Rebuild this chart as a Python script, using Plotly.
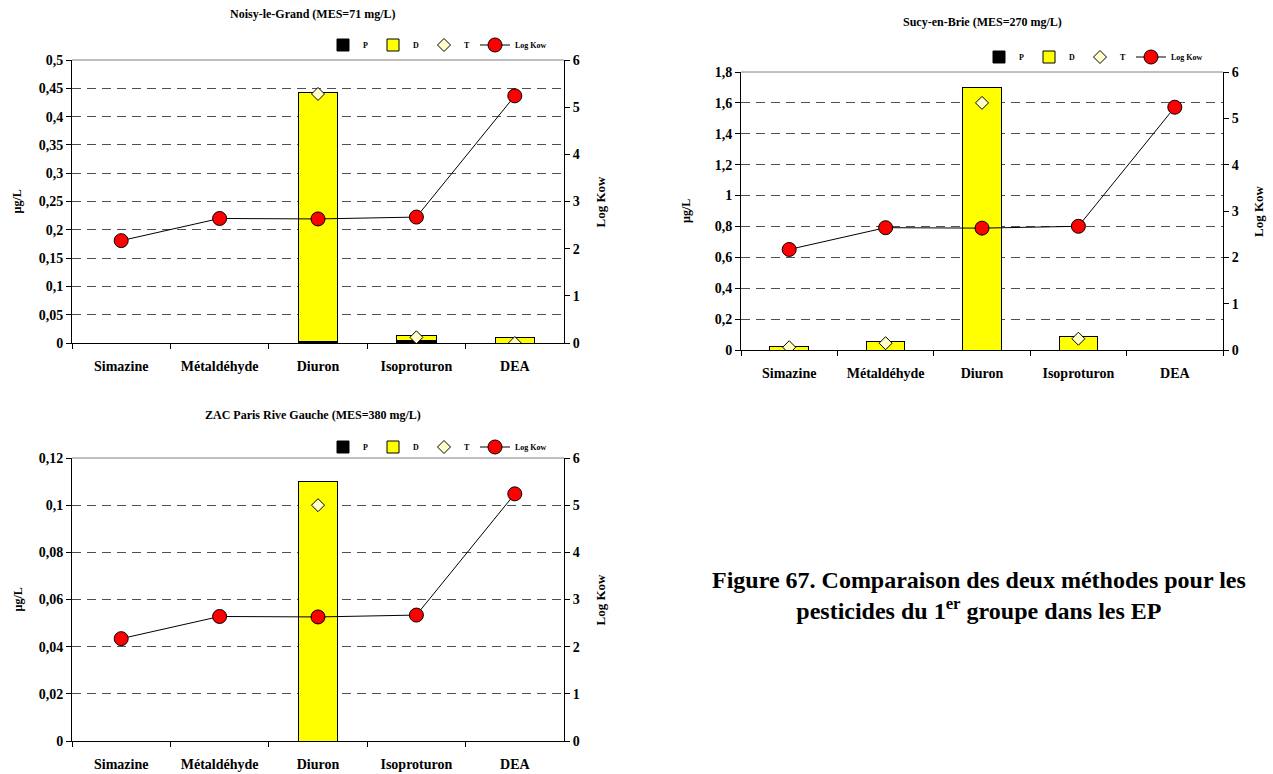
import plotly.graph_objects as go

categories = ["Simazine", "Métaldéhyde", "Diuron", "Isoproturon", "DEA"]
log_kow = [2.17, 2.64, 2.63, 2.67, 5.24]

# Noisy-le-Grand
noisy_p = [None, None, 0.003, 0.004, None]
noisy_d = [None, None, 0.440, 0.009, 0.009]
noisy_t = [None, None, 0.440, 0.010, 0.0]

# Sucy-en-Brie
sucy_p = [0.0, 0.0, 0.0, 0.0, None]
sucy_d = [0.021, 0.056, 1.70, 0.086, None]
sucy_t = [0.018, 0.044, 1.60, 0.073, None]

# ZAC Paris Rive Gauche
zac_p = [None, None, 0.0, None, None]
zac_d = [None, None, 0.110, None, None]
zac_t = [None, None, 0.100, None, None]

titles = ["Noisy-le-Grand (MES=71 mg/L)", "Sucy-en-Brie (MES=270 mg/L)", "ZAC Paris Rive Gauche (MES=380 mg/L)"]
left_ranges = [(0.5, 0.05), (1.8, 0.2), (0.12, 0.02)]
caption = "Figure 67. Comparaison des deux méthodes pour les<br>pesticides du 1<sup>er</sup> groupe dans les EP"

FONT = "Liberation Serif"
W, H = 1273, 774

# panel boxes in pixels (left, right, top, bottom)
boxes = [(72, 564, 60, 343), (741, 1223, 72, 350), (72, 564, 458, 741)]
legend_pos = [(552, 45), (1208, 57), (552, 447)]
title_pos = [(313, 14), (982, 22), (313, 415)]
caption_pos = (979, 595)

fig = go.Figure()
datasets = [(noisy_p, noisy_d, noisy_t), (sucy_p, sucy_d, sucy_t), (zac_p, zac_d, zac_t)]
legend_names = ["legend", "legend2", "legend3"]

for i, (p, d, t) in enumerate(datasets):
    xa = "x" if i == 0 else f"x{i+1}"
    ya = "y" if i == 0 else f"y{2*i+1}"
    yb = f"y{2*i+2}"
    lg = legend_names[i]
    fig.add_trace(go.Bar(x=categories, y=p, name="P", marker=dict(color="black", line=dict(color="black", width=1)),
                         width=0.4, xaxis=xa, yaxis=ya, legend=lg, offsetgroup=str(i)))
    fig.add_trace(go.Bar(x=categories, y=d, name="D", marker=dict(color="#FFFF00", line=dict(color="black", width=1)),
                         width=0.4, xaxis=xa, yaxis=ya, legend=lg, offsetgroup=str(i)))
    fig.add_trace(go.Scatter(x=categories, y=t, name="T", mode="markers",
                             marker=dict(symbol="diamond", size=10, color="#FFFFC8", line=dict(color="black", width=1)),
                             xaxis=xa, yaxis=ya, legend=lg))
    fig.add_trace(go.Scatter(x=categories, y=log_kow, name="Log Kow", mode="lines+markers",
                             line=dict(color="black", width=1),
                             marker=dict(symbol="circle", size=14, color="#FF0000", line=dict(color="black", width=1)),
                             xaxis=xa, yaxis=yb, legend=lg))

layout = dict(
    width=W, height=H, margin=dict(l=0, r=0, t=0, b=0, autoexpand=False),
    paper_bgcolor="white", plot_bgcolor="white",
    barmode="stack", separators=", ",
    font=dict(family=FONT, size=11, color="black"),
    showlegend=True,
)

annotations = []
shapes = []
for i in range(3):
    l, r, t, b = boxes[i]
    xd = [l / W, r / W]
    yd = [1 - b / H, 1 - t / H]
    xk = "xaxis" if i == 0 else f"xaxis{i+1}"
    yk = "yaxis" if i == 0 else f"yaxis{2*i+1}"
    yk2 = f"yaxis{2*i+2}"
    xa = "x" if i == 0 else f"x{i+1}"
    ya = "y" if i == 0 else f"y{2*i+1}"
    ymax, dt = left_ranges[i]
    layout[xk] = dict(domain=xd, anchor=ya, type="category", showline=True, linecolor="black", linewidth=1,
                      ticks="outside", tickson="boundaries", ticklen=5, tickcolor="black",
                      tickfont=dict(family=FONT, size=14, color="black", weight="bold"),
                      showgrid=False, zeroline=False, automargin=False, ticklabelstandoff=10)
    layout[yk] = dict(domain=yd, anchor=xa, range=[0, ymax], dtick=dt, showline=True, linecolor="black",
                      linewidth=1, ticks="outside", ticklen=5, tickcolor="black",
                      tickfont=dict(family=FONT, size=14, color="black", weight="bold"),
                      showgrid=True, gridcolor="#505050", griddash="9px,6px", gridwidth=1, zeroline=False,
                      automargin=False)
    layout[yk2] = dict(domain=yd, anchor=xa, overlaying=ya, side="right", range=[0, 6], dtick=1,
                       showline=True, linecolor="black", linewidth=1, ticks="outside", ticklen=5,
                       tickcolor="black", tickfont=dict(family=FONT, size=14, color="black", weight="bold"),
                       showgrid=False, zeroline=False, automargin=False)
    shapes.append(dict(type="line", xref=f"{xa} domain", yref=f"{ya} domain", x0=0, x1=1, y0=1, y1=1,
                       line=dict(color="#808080", width=1)))
    lx, ly = legend_pos[i]
    layout[legend_names[i]] = dict(orientation="h", x=lx / W, y=1 - ly / H, xanchor="right", yanchor="middle",
                                   font=dict(family=FONT, size=8, color="black", weight="bold"),
                                   bgcolor="rgba(0,0,0,0)", itemwidth=30, tracegroupgap=0, traceorder="normal")
    tx, ty = title_pos[i]
    annotations.append(dict(text=f"<b>{titles[i]}</b>", x=tx / W, y=1 - ty / H, xref="paper", yref="paper",
                            xanchor="center", yanchor="middle",
                            showarrow=False, font=dict(family=FONT, size=12)))
    ycen = 1 - (t + b) / 2 / H
    annotations.append(dict(text="<b>µg/L</b>", x=(l - 55) / W, y=ycen, xref="paper", yref="paper",
                            xanchor="center", yanchor="middle",
                            textangle=-90, showarrow=False, font=dict(family=FONT, size=12)))
    annotations.append(dict(text="<b>Log Kow</b>", x=(r + 36) / W, y=ycen, xref="paper", yref="paper",
                            xanchor="center", yanchor="middle",
                            textangle=-90, showarrow=False, font=dict(family=FONT, size=13)))

cx, cy = caption_pos
annotations.append(dict(text=f"<b>{caption}</b>", x=cx / W, y=1 - cy / H, xref="paper", yref="paper",
                        showarrow=False, xanchor="center", yanchor="middle", align="center",
                        font=dict(family=FONT, size=24)))

layout["annotations"] = annotations
layout["shapes"] = shapes
fig.update_layout(**layout)
fig.write_html("out.html", config={"displayModeBar": False},
               post_script="document.body.style.margin='0px';document.body.style.overflow='hidden';")
